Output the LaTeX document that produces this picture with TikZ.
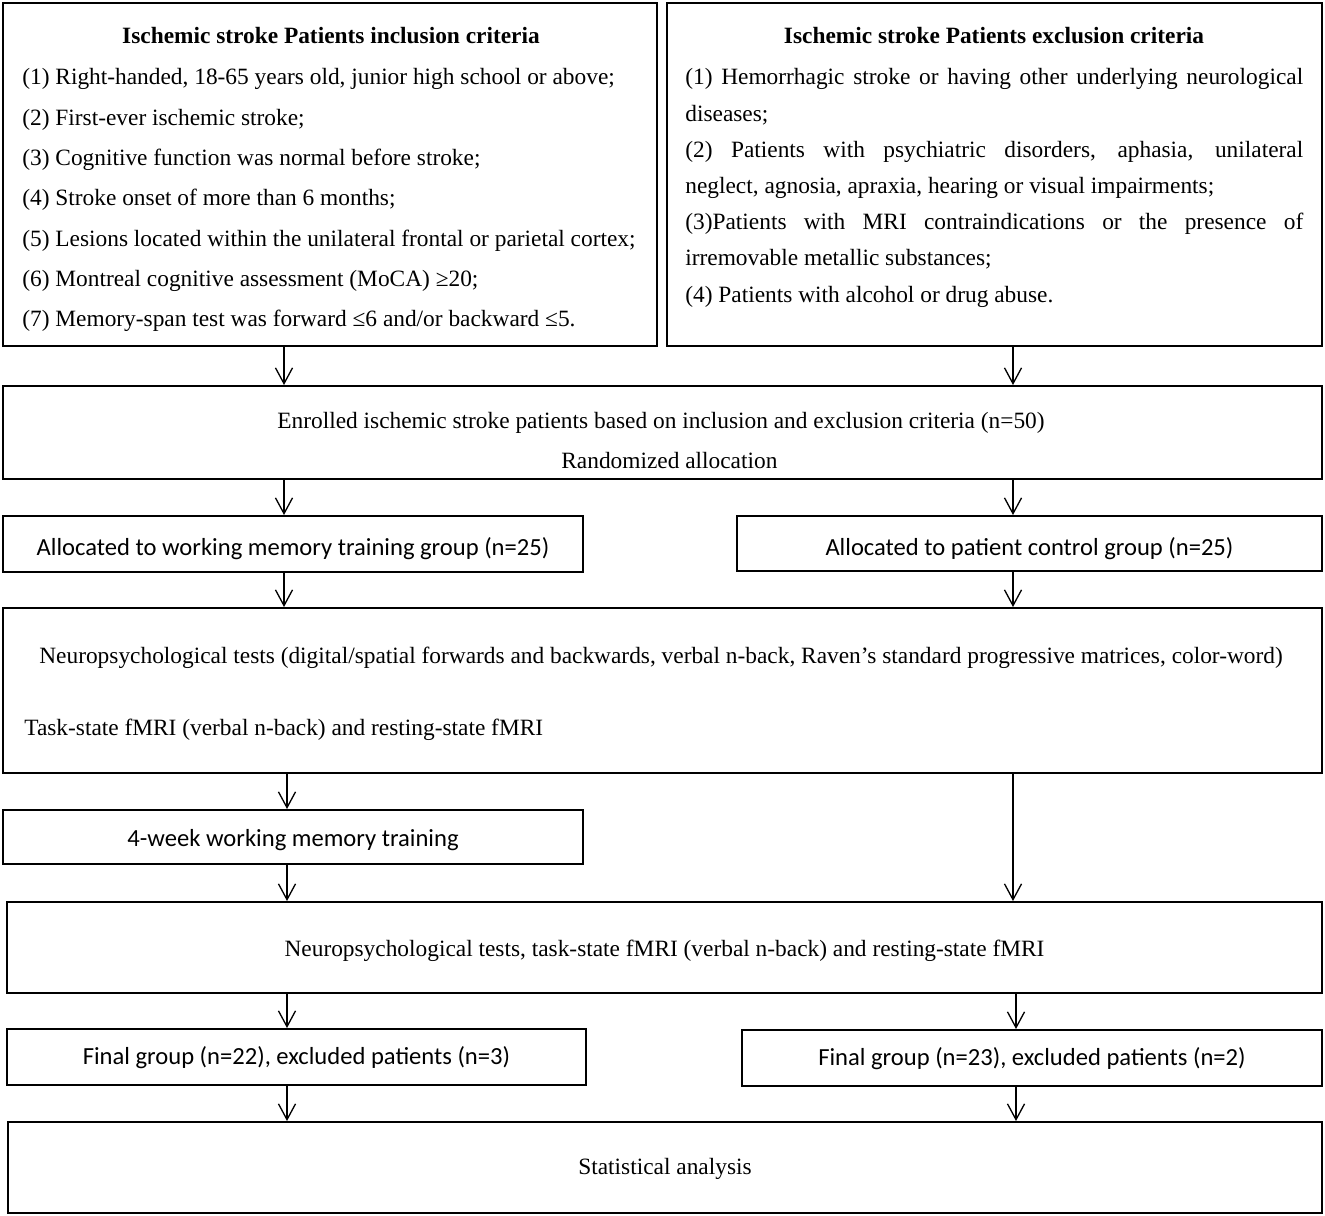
\documentclass[tikz,border=0pt]{standalone}
\usepackage{fontspec}
\setmainfont{Liberation Serif}
\newfontfamily\calfont{Carlito}
\usetikzlibrary{arrows.meta}
\begin{document}
\begin{tikzpicture}[x=0.02cm,y=-0.02cm,
  bx/.style 2 args={draw, line width=1.1pt, inner sep=0pt, minimum width=#1*0.02cm, minimum height=#2*0.02cm},
  arr/.style={line width=0.75pt, -{Straight Barb[length=9pt,width=9.7pt,line width=0.75pt]}},
  tx/.style={inner sep=0pt, font=\fontsize{13.3}{16}\selectfont},
  tl/.style={tx, anchor=base west},
  tc/.style={tx, anchor=base},
  sf/.style={inner sep=0pt, anchor=base, font=\calfont\fontsize{14}{17}\selectfont}]
\path[fill=white] (0,0) rectangle (1325,1216);
\useasboundingbox (0,0) rectangle (1325,1216);

% boxes
\node[bx={654}{343}] (A) at (330,174.5) {};
\node[bx={655}{343}] (B) at (994.5,174.5) {};
\node[bx={1319}{93}] (C) at (662.5,432.5) {};
\node[bx={580}{56}] (D1) at (293,544) {};
\node[bx={585}{55}] (D2) at (1029.5,543.5) {};
\node[bx={1319}{165}] (E) at (662.5,690.5) {};
\node[bx={580}{54}] (F) at (293,837) {};
\node[bx={1315}{91}] (G) at (664.5,947.5) {};
\node[bx={579}{56}] (H1) at (296.5,1057) {};
\node[bx={580}{56}] (H2) at (1032,1058) {};
\node[bx={1314}{91}] (I) at (665,1167.5) {};

% inclusion
\node[tc,font=\bfseries\fontsize{13.3}{16}\selectfont] (a0) at (331,44) {Ischemic stroke Patients inclusion criteria};
\node[tl] (a1) at (22,85) {(1) Right-handed, 18-65 years old, junior high school or above;};
\node[tl] (a2) at (22,126) {(2) First-ever ischemic stroke;};
\node[tl] (a3) at (22,166) {(3) Cognitive function was normal before stroke;};
\node[tl] (a4) at (22,206) {(4) Stroke onset of more than 6 months;};
\node[tl] (a5) at (22,247) {(5) Lesions located within the unilateral frontal or parietal cortex;};
\node[tl] (a6) at (22,287) {(6) Montreal cognitive assessment (MoCA) ≥20;};
\node[tl] (a7) at (22,327) {(7) Memory-span test was forward ≤6 and/or backward ≤5.};

% exclusion
\node[tc,font=\bfseries\fontsize{13.3}{16}\selectfont] (b0) at (994,44) {Ischemic stroke Patients exclusion criteria};
\node[tl] (b1) at (685,85) {\makebox[12.36cm][s]{(1) Hemorrhagic stroke or having other underlying neurological}};
\node[tl] (b2) at (685,122) {diseases;};
\node[tl] (b3) at (685,158) {\makebox[12.36cm][s]{(2) Patients with psychiatric disorders, aphasia, unilateral}};
\node[tl] (b4) at (685,194) {neglect, agnosia, apraxia, hearing or visual impairments;};
\node[tl] (b5) at (685,230) {\makebox[12.36cm][s]{(3)Patients with MRI contraindications or the presence of}};
\node[tl] (b6) at (685,266) {irremovable metallic substances;};
\node[tl] (b7) at (685,303) {(4) Patients with alcohol or drug abuse.};

% enrolled
\node[tl] (c1) at (277,428) {Enrolled ischemic stroke patients based on inclusion and exclusion criteria (n=50)};
\node[tl] (c2) at (561,468) {Randomized allocation};

\node[sf] (d1) at (293,555) {Allocated to working memory training group (n=25)};
\node[sf] (d2) at (1029.5,555) {Allocated to patient control group (n=25)};

\node[tl] (e1) at (39,663) {Neuropsychological tests (digital/spatial forwards and backwards, verbal n-back, Raven’s standard progressive matrices, color-word)};
\node[tl] (e2) at (24,735) {Task-state fMRI (verbal n-back) and resting-state fMRI};

\node[sf] (f1) at (293,846) {4-week working memory training};

\node[tc] (g1) at (664.5,956) {Neuropsychological tests, task-state fMRI (verbal n-back) and resting-state fMRI};

\node[sf] (h1) at (296.5,1064) {Final group (n=22), excluded patients (n=3)};
\node[sf] (h2) at (1032,1065) {Final group (n=23), excluded patients (n=2)};

\node[tc] (i1) at (665,1174) {Statistical analysis};

% connector columns
\coordinate (xa) at (284,0);
\coordinate (xb) at (287,0);
\coordinate (ya) at (1013,0);
\coordinate (yb) at (1016,0);

\draw[arr] (A.south -| xa) -- (C.north -| xa);
\draw[arr] (B.south -| ya) -- (C.north -| ya);
\draw[arr] (C.south -| xa) -- (D1.north -| xa);
\draw[arr] (C.south -| ya) -- (D2.north -| ya);
\draw[arr] (D1.south -| xa) -- (E.north -| xa);
\draw[arr] (D2.south -| ya) -- (E.north -| ya);
\draw[arr] (E.south -| xb) -- (F.north -| xb);
\draw[arr] (E.south -| ya) -- (G.north -| ya);
\draw[arr] (F.south -| xb) -- (G.north -| xb);
\draw[arr] (G.south -| xb) -- (H1.north -| xb);
\draw[arr] (G.south -| yb) -- (H2.north -| yb);
\draw[arr] (H1.south -| xb) -- (I.north -| xb);
\draw[arr] (H2.south -| yb) -- (I.north -| yb);
\end{tikzpicture}
\end{document}
